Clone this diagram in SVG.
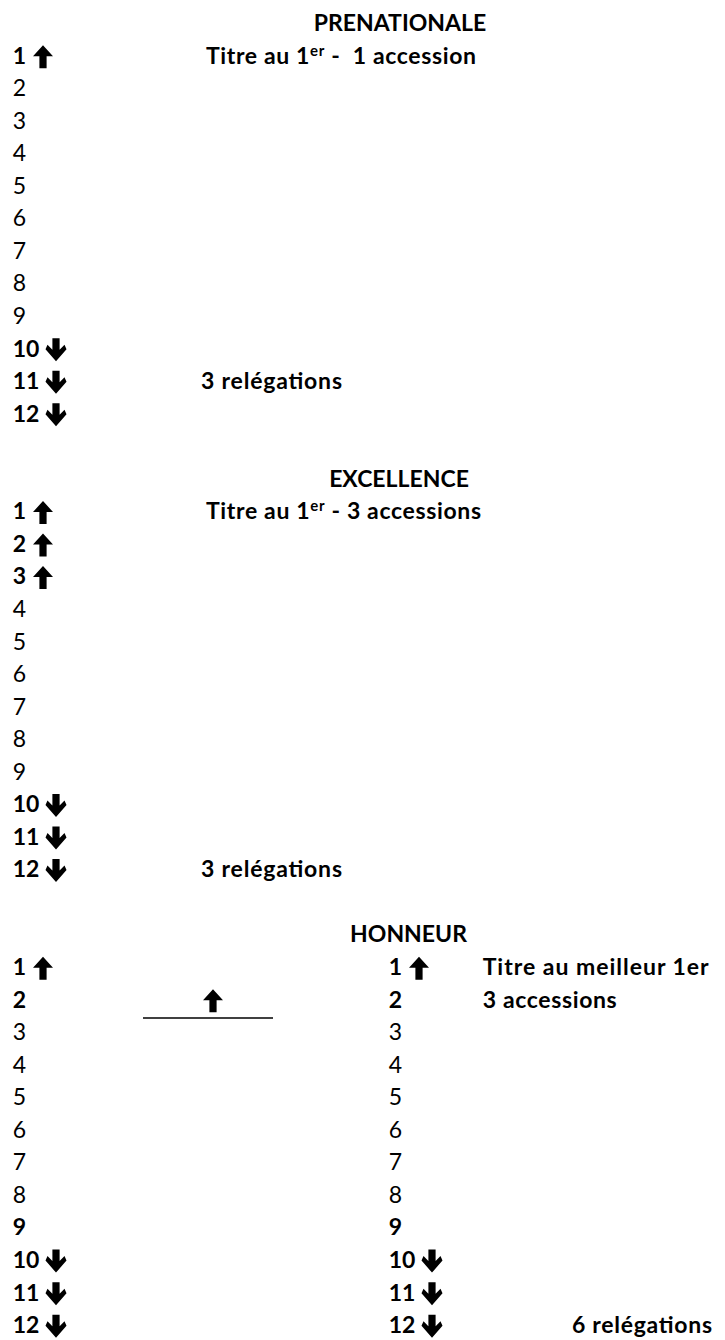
<svg xmlns="http://www.w3.org/2000/svg" width="725" height="1340" viewBox="0 0 725 1340">
<style>
text{font-family:Lato,"Open Sans","Liberation Sans",sans-serif;font-size:23px;fill:#000}
.b{font-weight:bold}
.h{font-weight:bold;text-anchor:middle}
.sup{font-size:15px}
</style>
<defs>
<path id="up" d="M0,-11.5 L10,-0.5 L3.6,-0.5 L3.6,11.5 L-3.6,11.5 L-3.6,-0.5 L-10,-0.5 Z" fill="#000"/>
<path id="dn" d="M-3.6,-11.5 L3.6,-11.5 L3.6,0 L8.5,-5 L10.5,-0.5 L0,11.5 L-10.5,-0.5 L-8.5,-5 L-3.6,0 Z" fill="#000"/>
</defs>
<rect width="725" height="1340" fill="#fff"/>

<g id="prenationale">
<text class="h" x="400" y="31">PRENATIONALE</text>
<text class="b" x="12.7" y="63.6">1</text><use href="#up" x="43" y="56.8"/>
<text class="b" x="206" y="63.6" textLength="270" lengthAdjust="spacing">Titre au 1<tspan class="sup" dy="-8">er</tspan><tspan dy="8"> -&#160; 1 accession</tspan></text>
<text x="12.7" y="96.1">2</text>
<text x="12.7" y="128.7">3</text>
<text x="12.7" y="161.2">4</text>
<text x="12.7" y="193.8">5</text>
<text x="12.7" y="226.3">6</text>
<text x="12.7" y="258.9">7</text>
<text x="12.7" y="291.4">8</text>
<text x="12.7" y="324">9</text>
<text class="b" x="12.7" y="356.5">10</text><use href="#dn" x="56" y="349.7"/>
<text class="b" x="12.7" y="389.1">11</text><use href="#dn" x="56" y="382.3"/>
<text class="b" x="201" y="389.1" textLength="141" lengthAdjust="spacing">3 relégations</text>
<text class="b" x="12.7" y="421.6">12</text><use href="#dn" x="56" y="414.8"/>
</g>

<g id="excellence">
<text class="h" x="399" y="486.7">EXCELLENCE</text>
<text class="b" x="12.7" y="519.3">1</text><use href="#up" x="43" y="512.5"/>
<text class="b" x="206" y="519.3" textLength="275" lengthAdjust="spacing">Titre au 1<tspan class="sup" dy="-8">er</tspan><tspan dy="8"> - 3 accessions</tspan></text>
<text class="b" x="12.7" y="551.8">2</text><use href="#up" x="43" y="545"/>
<text class="b" x="12.7" y="584.4">3</text><use href="#up" x="43" y="577.6"/>
<text x="12.7" y="616.9">4</text>
<text x="12.7" y="649.5">5</text>
<text x="12.7" y="682">6</text>
<text x="12.7" y="714.6">7</text>
<text x="12.7" y="747.1">8</text>
<text x="12.7" y="779.7">9</text>
<text class="b" x="12.7" y="812.2">10</text><use href="#dn" x="56" y="805.4"/>
<text class="b" x="12.7" y="844.8">11</text><use href="#dn" x="56" y="838"/>
<text class="b" x="12.7" y="877.3">12</text><use href="#dn" x="56" y="870.5"/>
<text class="b" x="201" y="877.3" textLength="141" lengthAdjust="spacing">3 relégations</text>
</g>

<g id="honneur">
<text class="h" x="408.5" y="942.4">HONNEUR</text>
<text class="b" x="12.7" y="975">1</text><use href="#up" x="43" y="968.2"/>
<text class="b" x="12.7" y="1007.5">2</text>
<use href="#up" x="213" y="1000.7"/>
<text x="12.7" y="1040.1">3</text>
<text x="12.7" y="1072.6">4</text>
<text x="12.7" y="1105.2">5</text>
<text x="12.7" y="1137.7">6</text>
<text x="12.7" y="1170.3">7</text>
<text x="12.7" y="1202.8">8</text>
<text class="b" x="12.7" y="1235.4">9</text>
<text class="b" x="12.7" y="1267.9">10</text><use href="#dn" x="56" y="1261.1"/>
<text class="b" x="12.7" y="1300.5">11</text><use href="#dn" x="56" y="1293.7"/>
<text class="b" x="12.7" y="1333">12</text><use href="#dn" x="56" y="1326.2"/>

<text class="b" x="388.7" y="975">1</text><use href="#up" x="419" y="968.2"/>
<text class="b" x="482.7" y="975" textLength="226" lengthAdjust="spacing">Titre au meilleur 1er</text>
<text class="b" x="388.7" y="1007.5">2</text>
<text class="b" x="482.7" y="1007.5" textLength="134" lengthAdjust="spacing">3 accessions</text>
<text x="388.7" y="1040.1">3</text>
<text x="388.7" y="1072.6">4</text>
<text x="388.7" y="1105.2">5</text>
<text x="388.7" y="1137.7">6</text>
<text x="388.7" y="1170.3">7</text>
<text x="388.7" y="1202.8">8</text>
<text class="b" x="388.7" y="1235.4">9</text>
<text class="b" x="388.7" y="1267.9">10</text><use href="#dn" x="432" y="1261.1"/>
<text class="b" x="388.7" y="1300.5">11</text><use href="#dn" x="432" y="1293.7"/>
<text class="b" x="388.7" y="1333">12</text><use href="#dn" x="432" y="1326.2"/>
<text class="b" x="572" y="1333" textLength="140" lengthAdjust="spacing">6 relégations</text>
</g>

<g id="connectors">
<line x1="143" y1="1018" x2="273" y2="1018" stroke="#000" stroke-width="1.5"/>
</g>
</svg>
